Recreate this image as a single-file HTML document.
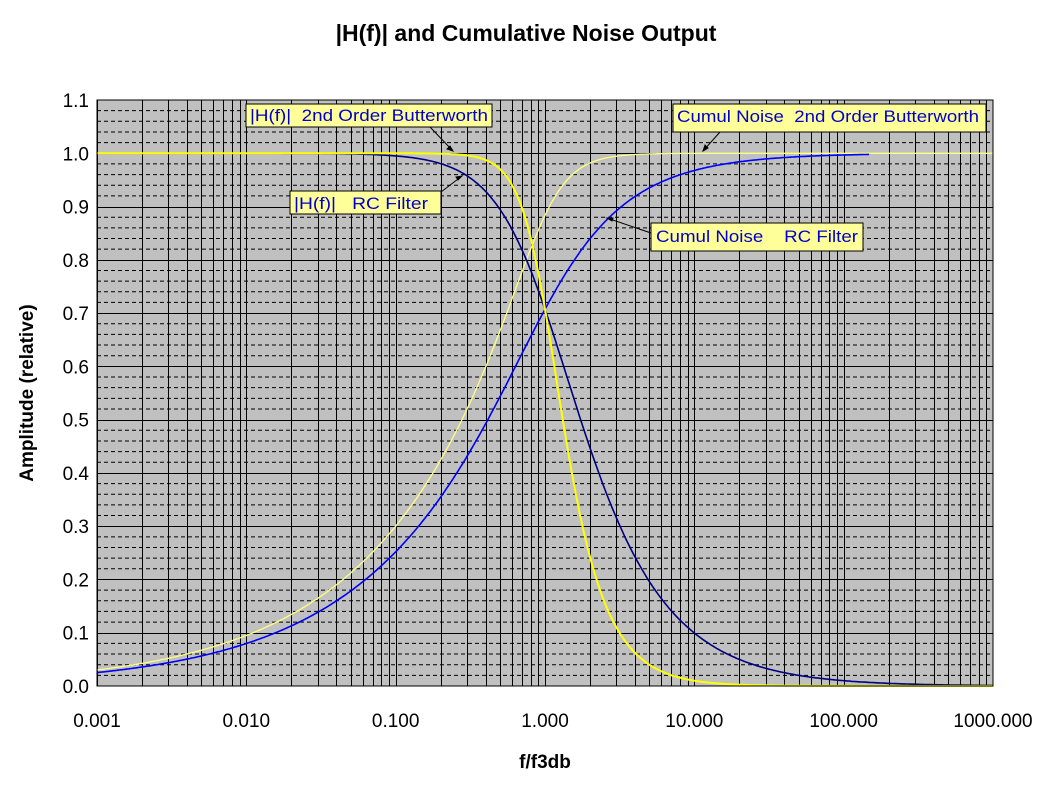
<!DOCTYPE html>
<html><head><meta charset="utf-8"><style>
body{margin:0;background:#fff;width:1053px;height:785px;overflow:hidden}
svg{display:block;font-family:"Liberation Sans",Arial,sans-serif}
</style></head><body>
<svg id="s" width="1053" height="785" xmlns="http://www.w3.org/2000/svg">
<rect x="0" y="0" width="1053" height="785" fill="#fff"/>
<text x="526" y="41" text-anchor="middle" font-size="23" font-weight="bold">|H(f)| and Cumulative Noise Output</text>
<rect x="97" y="100" width="896" height="586" fill="#c0c0c0"/>
<g id="grid"></g>
<g id="curves" fill="none"></g>
<rect x="97" y="100" width="896" height="586" fill="none" stroke="#000" stroke-width="1"/>
<g id="ylab" font-size="19" text-anchor="end"></g>
<g id="xlab" font-size="19" text-anchor="middle"></g>
<text x="545" y="768" text-anchor="middle" font-size="19" font-weight="bold">f/f3db</text>
<text transform="translate(33,393) rotate(-90)" text-anchor="middle" font-size="19" font-weight="bold">Amplitude (relative)</text>
<g font-size="17" fill="#0000cc">
<rect x="246" y="104" width="246" height="23" fill="#ffff99" stroke="#000"/>
<text x="250" y="121" xml:space="preserve" textLength="238" lengthAdjust="spacingAndGlyphs">|H(f)|  2nd Order Butterworth</text>
<rect x="290" y="191" width="151" height="23" fill="#ffff99" stroke="#000"/>
<text x="294" y="209" xml:space="preserve" textLength="134" lengthAdjust="spacingAndGlyphs">|H(f)|   RC Filter</text>
<rect x="673" y="104" width="313" height="28" fill="#ffff99" stroke="#000"/>
<text x="677" y="122" xml:space="preserve" textLength="302" lengthAdjust="spacingAndGlyphs">Cumul Noise  2nd Order Butterworth</text>
<rect x="651" y="223" width="212" height="28" fill="#ffff99" stroke="#000"/>
<text x="656" y="242" xml:space="preserve" textLength="202" lengthAdjust="spacingAndGlyphs">Cumul Noise    RC Filter</text>
</g>
<g stroke="#000" stroke-width="1">
<line x1="430" y1="127" x2="453" y2="151"/><path d="M453 151 l-6 -2 l3 -3z" fill="#000"/>
<line x1="441" y1="192" x2="462" y2="176"/><path d="M462 176 l-6 1 l2 3z" fill="#000"/>
<line x1="720" y1="132" x2="703" y2="151"/><path d="M703 151 l2 -6 l3 3z" fill="#000"/>
<line x1="651" y1="233" x2="607" y2="218"/><path d="M607 218 l6 0 l-1 3z" fill="#000"/>
</g>
</svg>
<script>
const L=97,R=993,T=100,B=686;
const X=f=>L+(Math.log10(f)+3)*(R-L)/6;
const Y=v=>B-v*(B-T)/1.1;
const ns="http://www.w3.org/2000/svg";
function el(p,t,a){const e=document.createElementNS(ns,t);for(const k in a)e.setAttribute(k,a[k]);p.appendChild(e);return e;}
const g=document.getElementById('grid');
for(let i=1;i<55;i++){if(i%5==0)continue;const y=Y(i*0.02);el(g,'line',{x1:L,x2:R,y1:y,y2:y,stroke:'#000','stroke-width':1,'stroke-dasharray':'4,3'});}
for(let i=1;i<11;i++){const y=Math.round(Y(i*0.1))+0.5;el(g,'line',{x1:L,x2:R,y1:y,y2:y,stroke:'#000','stroke-width':1});}
for(let d=-3;d<3;d++)for(let m=1;m<10;m++){const x=Math.round(X(m*Math.pow(10,d)))+0.5;el(g,'line',{x1:x,x2:x,y1:T,y2:B,stroke:'#000','stroke-width':1});}
const yl=document.getElementById('ylab');
for(let i=0;i<=11;i++){el(yl,'text',{x:89,y:Y(i*0.1)+7}).textContent=(i/10).toFixed(1);}
const xl=document.getElementById('xlab');
['0.001','0.010','0.100','1.000','10.000','100.000','1000.000'].forEach((t,i)=>{el(xl,'text',{x:L+i*(R-L)/6,y:727}).textContent=t;});
const s2=Math.SQRT2;
function IB(x){return (Math.log((x*x+s2*x+1)/(x*x-s2*x+1))+2*Math.atan(s2*x+1)+2*Math.atan(s2*x-1))/(4*s2);}
const totB=Math.PI/(2*s2);
const fns=[
 [f=>Math.sqrt(IB(f)/totB),'#ffff80',1.3,1000],
 [f=>Math.sqrt(2/Math.PI*Math.atan(f)),'#0000ff',1.6,150],
 [f=>1/Math.sqrt(1+f*f),'#000080',1.6,1000],
 [f=>1/Math.sqrt(1+f**4),'#ffff00',2,1000]
];
const c=document.getElementById('curves');
fns.forEach(([fn,col,w,mx])=>{let d='';for(let i=0;i<=600;i++){const lf=-3+i*6/600;const f=Math.pow(10,lf);if(f>mx*1.0001)break;d+=(i?'L':'M')+X(f).toFixed(1)+' '+Y(fn(f)).toFixed(1);}el(c,'path',{d:d,stroke:col,'stroke-width':w});});
</script>
</body></html>
